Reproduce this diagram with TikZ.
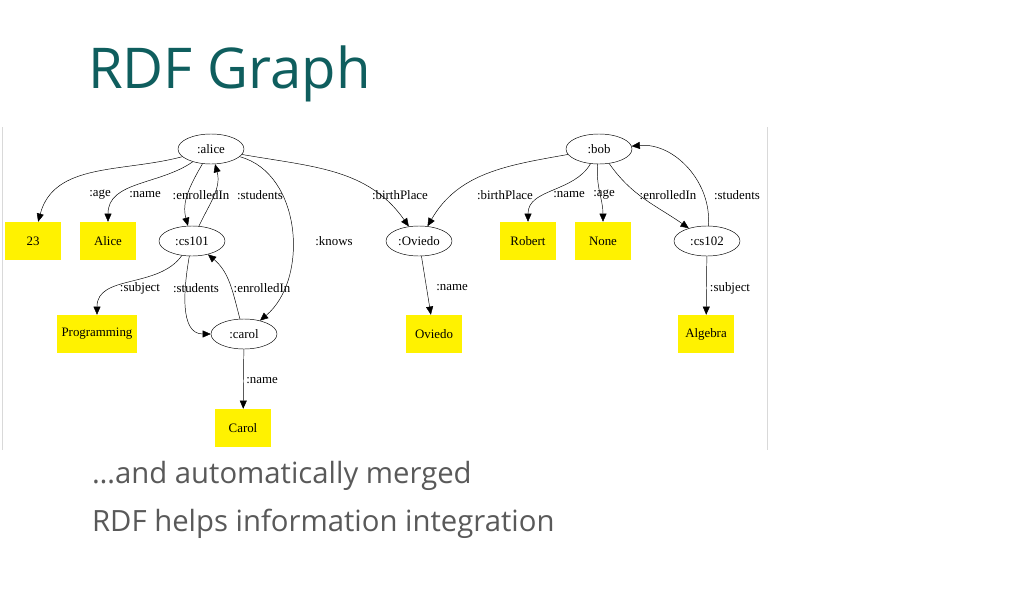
\documentclass[tikz,border=0pt]{standalone}
\usepackage{fontspec}
\setmainfont{Liberation Serif}
\newfontfamily\slidefont{Open Sans}
\usetikzlibrary{arrows.meta,shapes.geometric}
\definecolor{titleteal}{HTML}{0F5E5E}
\definecolor{bodygray}{HTML}{595959}
\tikzset{
  res/.style={ellipse, draw, minimum width=1.98cm, minimum height=0.9cm, inner sep=0pt, font=\fontsize{11}{13}\selectfont},
  lit/.style={rectangle, fill=yellow, minimum width=1.68cm, minimum height=1.14cm, inner xsep=4pt, font=\fontsize{11}{13}\selectfont},
  arc/.style={-{Triangle[length=7pt,width=6pt]}, thin},
  lbl/.style={font=\fontsize{11}{13}\selectfont, inner sep=1pt}
}
\begin{document}
\begin{tikzpicture}[x=0.03cm, y=-0.03cm]
    \useasboundingbox (0,0) rectangle (1024,612);
    % frame of the graph picture
    \draw[black!15] (2,127) -- (2,450);
    \draw[black!15] (767,127) -- (767,450);

    % Title and closing lines
    \node[anchor=west, text=titleteal, font=\fontsize{48}{56}\selectfont\slidefont] (title) at (84,74) {RDF Graph};
    \node[anchor=west, text=bodygray, font=\fontsize{25}{30}\selectfont\slidefont] (merged) at (88,476) {\dots and automatically merged};
    \node[anchor=west, text=bodygray, font=\fontsize{25}{30}\selectfont\slidefont] (helps) at (88,524) {RDF helps information integration};

    % Resources
    \node[res] (alice) at (211,149) {:alice};
    \node[res] (bob) at (599,149) {:bob};
    \node[res] (cs101) at (192,241) {:cs101};
    \node[res] (oviedo) at (419,241) {:Oviedo};
    \node[res] (cs102) at (707,241) {:cs102};
    \node[res] (carol) at (244,334) {:carol};

    % Literals
    \node[lit] (age23) at (33,241) {23};
    \node[lit] (nAlice) at (108,241) {Alice};
    \node[lit] (nRobert) at (528,241) {Robert};
    \node[lit] (ageNone) at (603,241) {None};
    \node[lit] (prog) at (97,334) {Programming};
    \node[lit] (nOviedo) at (434,334) {Oviedo};
    \node[lit] (algebra) at (706,334) {Algebra};
    \node[lit] (nCarol) at (243,428) {Carol};

    % Edge labels
    \node[lbl] (lAge) at (100,195) {:age};
    \node[lbl] (lName) at (145,195) {:name};
    \node[lbl] (lEnr) at (201,195) {:enrolledIn};
    \node[lbl] (lStu) at (260,195) {:students};
    \node[lbl] (lKnows) at (334,241) {:knows};
    \node[lbl] (lBirthA) at (400,195) {:birthPlace};
    \node[lbl] (lBirthB) at (505,195) {:birthPlace};
    \node[lbl] (lNameB) at (569,195) {:name};
    \node[lbl] (lAgeB) at (604,195) {:age};
    \node[lbl] (lEnrB) at (668,195) {:enrolledIn};
    \node[lbl] (lStuB) at (737,195) {:students};
    \node[lbl] (lSubj) at (140,288) {:subject};
    \node[lbl] (lStuC) at (196,288) {:students};
    \node[lbl] (lEnrC) at (262,288) {:enrolledIn};
    \node[lbl] (lNameO) at (452,288) {:name};
    \node[lbl] (lSubjB) at (730,288) {:subject};
    \node[lbl] (lNameC) at (262,381) {:name};

    % Edges of alice
    \draw[arc] (alice) to[out=195, in=75] (age23);
    \draw[arc] (alice) to[out=215, in=90] (nAlice);
    \draw[arc] (alice) to[out=240, in=105] (cs101);
    \draw[arc] (cs101) to[out=65, in=-75] (alice);
    \draw[arc] (alice) to[out=-15, in=40] (carol);
    \draw[arc] (alice) to[out=-10, in=125] (oviedo);

    % Edges of bob
    \draw[arc] (bob) to[out=190, in=60] (oviedo);
    \draw[arc] (bob) to[out=240, in=90] (nRobert);
    \draw[arc] (bob) to[out=-95, in=90] (ageNone);
    \draw[arc] (bob) to[out=-55, in=145] (cs102);
    \draw[arc] (cs102) to[out=85, in=5] (bob);

    % Courses and the rest
    \draw[arc] (cs101) to[out=235, in=90] (prog);
    \draw[arc] (cs101) to[out=-100, in=180] (carol);
    \draw[arc] (carol) to[out=105, in=-40] (cs101);
    \draw[arc] (oviedo) -- (nOviedo);
    \draw[arc] (cs102) -- (algebra);
    \draw[arc] (carol) -- (nCarol);
\end{tikzpicture}
\end{document}
